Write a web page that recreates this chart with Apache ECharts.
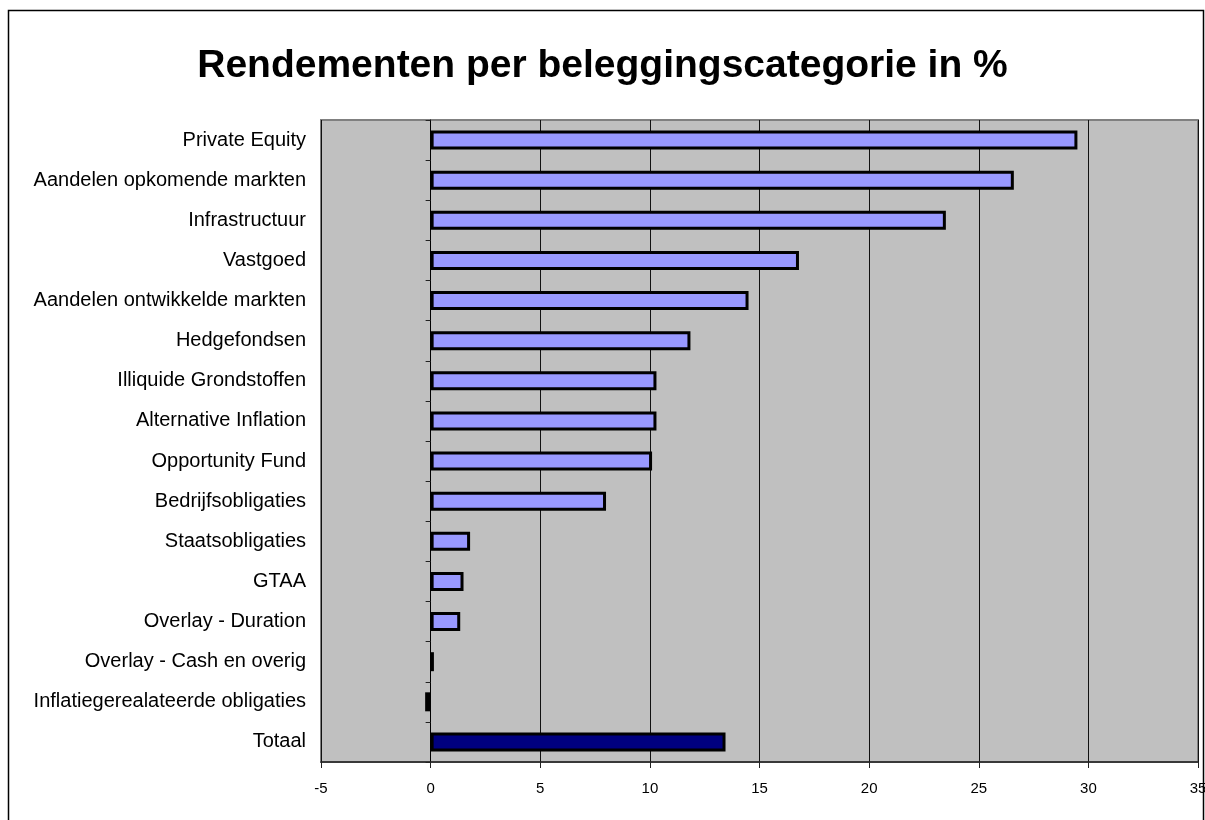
<!DOCTYPE html>
<html>
<head>
<meta charset="utf-8">
<script src="https://cdn.jsdelivr.net/npm/echarts@6/dist/echarts.min.js"></script>
<style>
  html, body { margin: 0; padding: 0; background: #fff; }
  #chart { width: 1205px; height: 820px; }
</style>
</head>
<body>
<div id="chart"></div>
<script>
// categories top to bottom
var categories = [
  'Private Equity',
  'Aandelen opkomende markten',
  'Infrastructuur',
  'Vastgoed',
  'Aandelen ontwikkelde markten',
  'Hedgefondsen',
  'Illiquide Grondstoffen',
  'Alternative Inflation',
  'Opportunity Fund',
  'Bedrijfsobligaties',
  'Staatsobligaties',
  'GTAA',
  'Overlay - Duration',
  'Overlay - Cash en overig',
  'Inflatiegerealateerde obligaties',
  'Totaal'
];
var returns = [29.5, 26.6, 23.5, 16.8, 14.5, 11.85, 10.3, 10.3, 10.1, 8.0, 1.8, 1.5, 1.35, 0.15, -0.25, 13.45];
var xTicks = { min: -5, max: 35, step: 5 };

var font = 'Liberation Sans, Arial, sans-serif';

var chart = echarts.init(document.getElementById('chart'));

chart.setOption({
  backgroundColor: '#fff',
  title: {
    text: 'Rendementen per beleggingscategorie in %',
    left: 'center',
    top: 42,
    textStyle: { fontFamily: font, fontSize: 39, fontWeight: 'bold', color: '#000' }
  },
  graphic: [{
    type: 'rect',
    shape: { x: 8.5, y: 10.5, width: 1195, height: 830 },
    style: { fill: 'none', stroke: '#000', lineWidth: 1.5 },
    silent: true
  }],
  grid: {
    left: 321, right: 7, top: 120, bottom: 58,
    outerBoundsMode: 'none',
    containLabel: false,
    show: true,
    backgroundColor: '#c0c0c0',
    borderColor: '#808080',
    borderWidth: 2
  },
  xAxis: {
    type: 'value',
    min: xTicks.min,
    max: xTicks.max,
    interval: xTicks.step,
    axisLine: { show: true, onZero: false, lineStyle: { color: '#222', width: 1.5 } },
    axisTick: { show: true, length: 6, lineStyle: { color: '#222' } },
    axisLabel: { fontFamily: font, fontSize: 15, color: '#000', margin: 19 },
    splitLine: { show: true, lineStyle: { color: '#111', width: 1 } }
  },
  yAxis: [{
    type: 'category',
    data: categories,
    inverse: true,
    axisLine: { show: false, onZero: false },
    axisTick: { show: false },
    axisLabel: { fontFamily: font, fontSize: 20, color: '#000', margin: 15 }
  }, {
    type: 'category',
    data: categories,
    inverse: true,
    position: 'left',
    axisLine: { show: true, onZero: true, lineStyle: { color: '#000', width: 1 } },
    axisTick: { show: true, length: 5, lineStyle: { color: '#222' } },
    axisLabel: { show: false },
    splitLine: { show: false }
  }],
  series: [{
    type: 'bar',
    yAxisIndex: 0,
    barWidth: 19,
    data: returns.map(function (v, i) {
      return {
        value: v,
        itemStyle: { color: categories[i] === 'Totaal' ? '#000080' : '#9999ff' }
      };
    }),
    itemStyle: { borderColor: '#000', borderWidth: 3 },
    silent: true
  }],
  animation: false
});
</script>
</body>
</html>
